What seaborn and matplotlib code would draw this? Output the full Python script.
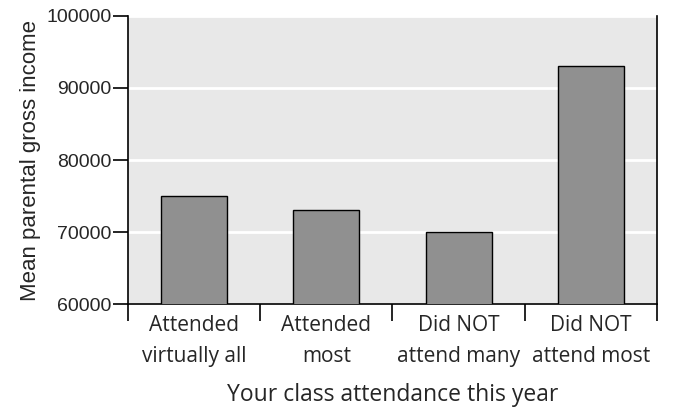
import matplotlib
matplotlib.use("Agg")
import matplotlib.pyplot as plt
import seaborn as sns
import pandas as pd

sns.set_theme(style="white")

# Chart data
categories = ["Attended\nvirtually all", "Attended\nmost", "Did NOT\nattend many", "Did NOT\nattend most"]
mean_income = [75000, 73000, 70000, 93000]
y_ticks = [60000, 70000, 80000, 90000, 100000]

df = pd.DataFrame({"attendance": categories, "income": mean_income})

fig = plt.figure(figsize=(6.79, 4.11), dpi=100)
ax = fig.add_axes([0.1885, 0.2603, 0.7791, 0.7008])
ax.set_facecolor("#e8e8e8")

sns.barplot(data=df, x="attendance", y="income", color="#909090", width=0.5,
            edgecolor="black", linewidth=1.0, saturation=1, ax=ax, zorder=3)

ax.set_ylim(60000, 100000)
ax.set_xlim(-0.5, 3.5)
ax.set_yticks(y_ticks)
ax.set_yticklabels([str(v) for v in y_ticks], fontsize=14, family="Liberation Sans")
ax.yaxis.grid(True, color="white", linewidth=2, zorder=1)
ax.set_axisbelow(True)

# category labels at centres, ticks at boundaries
ax.set_xticks(range(len(categories)))
ax.set_xticklabels(categories, fontsize=15, family="Open Sans", linespacing=1.6)
ax.set_xticks([i - 0.5 for i in range(len(categories) + 1)], minor=True)
ax.tick_params(axis="x", which="major", length=0, pad=8)
ax.tick_params(axis="x", which="minor", length=12, width=1.2, color="black", direction="out", bottom=True)
ax.tick_params(axis="y", length=11, width=1.2, color="black", direction="out", left=True, pad=1)

for side in ["left", "bottom", "right"]:
    ax.spines[side].set_color("black")
    ax.spines[side].set_linewidth(1.2)
ax.spines["top"].set_visible(False)

ax.set_xlabel("Your class attendance this year", fontsize=16.5, family="Open Sans", labelpad=12)
ax.set_ylabel("Mean parental gross income", fontsize=16, family="Liberation Sans", labelpad=4)

fig.savefig("out.png", dpi=100)
